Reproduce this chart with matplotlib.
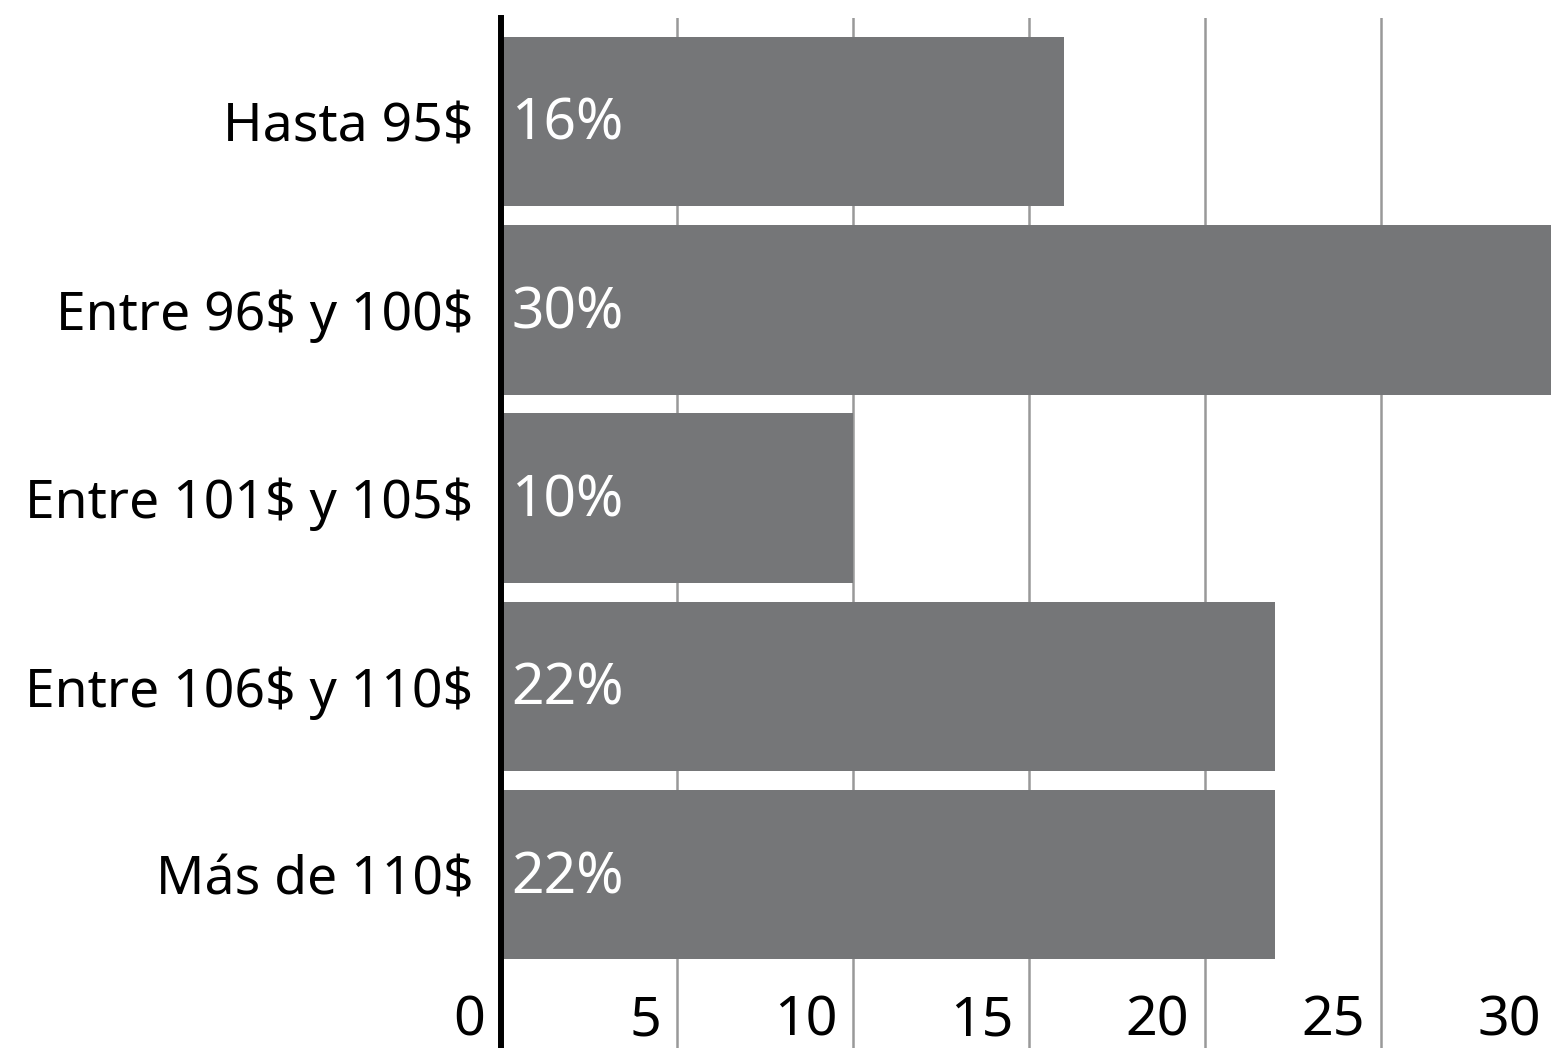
import matplotlib.pyplot as plt
from matplotlib.transforms import blended_transform_factory

categories = ['Hasta 95$', 'Entre 96$ y 100$', 'Entre 101$ y 105$',
              'Entre 106$ y 110$', 'Más de 110$']
values = [16, 30, 10, 22, 22]
xticks = [0, 5, 10, 15, 20, 25, 30]

plt.rcParams['font.family'] = ['Noto Sans', 'DejaVu Sans']
plt.rcParams['text.parse_math'] = False

fig = plt.figure(figsize=(15.51, 10.48), dpi=100)
ax = fig.add_axes([501 / 1551, 0, 1 - 501 / 1551, 1030 / 1048])

pos = list(range(len(categories)))
ax.barh(pos, values, height=0.9, color='#757678', zorder=2)

ax.set_xlim(0, 30 * 1050 / 1056)
ax.set_ylim(4.92, -0.55)

# grid lines behind the bars
for t in xticks[1:]:
    ax.axvline(t, color='#999999', lw=1.8, zorder=1)
ax.axvline(0, color='black', lw=4.3, zorder=3, clip_on=False)

for s in ax.spines.values():
    s.set_visible(False)
ax.set_xticks([])
ax.set_yticks(pos)
ax.set_yticklabels(categories, fontsize=38.5)
ax.tick_params(axis='y', length=0, pad=20)

# bar value labels
for p, v in zip(pos, values):
    ax.text(0.3, p + 0.02, f'{v}%', color='white', fontsize=41, va='center',
            ha='left', zorder=4)

# x tick labels sit left of each grid line, inside the axes
trans = blended_transform_factory(ax.transData, ax.transAxes)
for t in xticks:
    ax.text(t - 0.45, 0.0, str(t), transform=trans, ha='right',
            va='bottom', fontsize=40, zorder=4)

fig.savefig('out.png', dpi=100)
